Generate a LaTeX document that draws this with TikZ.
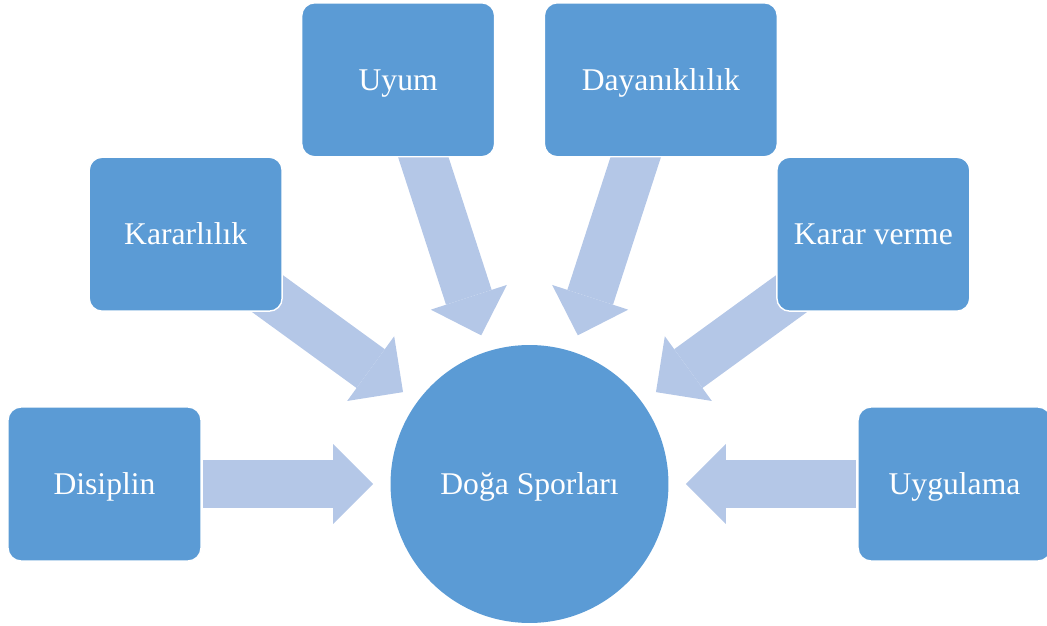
\documentclass[tikz,border=0pt]{standalone}
\usepackage{fontspec}
\setmainfont{Liberation Serif}
\usetikzlibrary{arrows.meta,backgrounds}
\definecolor{boxblue}{HTML}{5B9BD5}
\definecolor{arrowblue}{HTML}{B4C7E7}
\tikzset{
  label text/.style={text=white, font=\fontsize{18}{21}\selectfont, text height=11.9pt, text depth=0pt},
  item/.style={label text, rectangle, rounded corners=0.26cm, fill=boxblue, draw=white, line width=0.8pt,
    minimum width=3.86cm, minimum height=3.08cm},
  hub/.style={label text, circle, fill=boxblue, minimum size=5.56cm, inner sep=0pt},
  fatarrow/.style={draw=arrowblue, line width=0.96cm,
    -{Triangle[width=1.6cm,length=0.8cm,line width=0pt]},
    shorten <=#1, shorten >=0.34cm},
  fatarrow/.default=1.98cm
}
\begin{document}
\begin{tikzpicture}[x=0.02cm,y=0.02cm]
  \useasboundingbox (0,0) rectangle (1047,625);
  \node[hub] at (529.5,141) (doga) {Doğa Sporları};
  \node[item] at ([shift={(180:425)}]doga.center) (dis) {Disiplin};
  \node[item] at ([shift={(144:425)}]doga.center) (kar) {Kararlılık};
  \node[item] at ([shift={(108:425)}]doga.center) (uyum) {Uyum};
  \node[item, minimum width=4.66cm] at ([shift={(72:425)}]doga.center) (day) {Dayanıklılık};
  \node[item] at ([shift={(36:425)}]doga.center) (kv) {Karar verme};
  \node[item] at ([shift={(0:425)}]doga.center) (uyg) {Uygulama};
  \begin{scope}[on background layer]
    \foreach \n/\s in {dis/1.98cm,kar/1.4cm,uyum/1.4cm,day/1.4cm,kv/1.4cm,uyg/1.98cm}
      \draw[fatarrow=\s] (\n.center) -- (doga);
  \end{scope}
\end{tikzpicture}
\end{document}
